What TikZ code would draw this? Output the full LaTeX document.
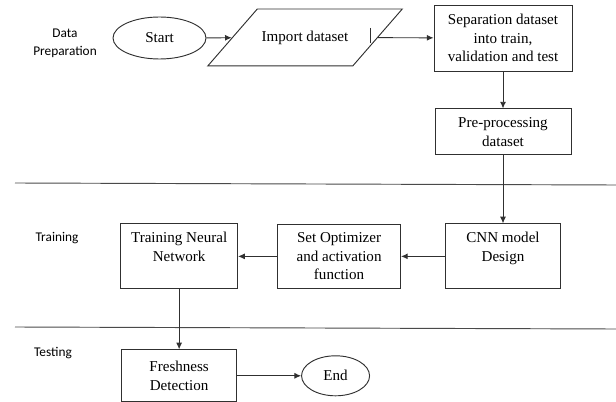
\documentclass[tikz,border=0pt]{standalone}
\usepackage{fontspec}
\setmainfont{Liberation Serif}
\newfontfamily\boxfont{Liberation Serif}
\newfontfamily\phasefont{Carlito}
\usetikzlibrary{arrows.meta, positioning, shapes.geometric}
\definecolor{linegray}{HTML}{303030}
\definecolor{rulegray}{HTML}{4A4A4A}

\begin{document}
\begin{tikzpicture}[
    x=0.75pt, y=-0.75pt,
    >={Latex[length=5pt, width=4.5pt]},
    font=\boxfont\fontsize{11.3}{14}\selectfont,
    procbox/.style={
        draw=linegray, line width=0.7pt, rectangle, align=center,
        inner sep=2pt,
    },
    termnode/.style={
        draw=linegray, line width=0.7pt, ellipse, inner sep=1pt,
    },
    iobox/.style={
        draw=linegray, line width=0.7pt, trapezium,
        trapezium left angle=49, trapezium right angle=131,
        trapezium stretches body=true,
        text height=8pt, text depth=2.5pt, inner ysep=16.1pt,
    },
    phase/.style={font=\phasefont\fontsize{10}{13.5}\selectfont, align=center},
    arr/.style={->, line width=0.7pt, color=linegray},
    sepline/.style={line width=0.7pt, color=rulegray},
]
\useasboundingbox (0,0) rectangle (616,402);

% Data preparation
\node[termnode, minimum width=69.75pt, minimum height=31.5pt] (start) at (159.5,38) {Start};
\node[iobox, minimum width=143.25pt] (import) at (305,37.5) {Import dataset};
\node[procbox, minimum width=103.5pt, minimum height=49.5pt] (separate) at (503,38)
    {Separation dataset\\into train,\\validation and test};
\node[procbox, minimum width=102pt, minimum height=34.5pt, below=27.75pt of separate] (preproc)
    {Pre-processing\\dataset};

% Training
\node[procbox, minimum width=86.25pt, minimum height=48.75pt, below=51pt of preproc] (cnn)
    {CNN model\\Design\\\mbox{}};
\node[procbox, minimum width=92.25pt, minimum height=48pt, left=33pt of cnn] (optim)
    {Set Optimizer\\and activation\\function};
\node[procbox, minimum width=87.75pt, minimum height=48.75pt, left=29.25pt of optim] (train)
    {Training Neural\\Network\\\mbox{}};

% Testing
\node[procbox, minimum width=86.25pt, minimum height=39pt, below=45pt of train] (fresh)
    {Freshness\\Detection};
\node[termnode, minimum width=51pt, minimum height=30pt, right=48pt of fresh] (finish) {End};

% Phase labels
\node[phase] (prep label) at (65,43) {Data\\Preparation};
\node[phase] (train label) at (57,238) {Training};
\node[phase] (test label) at (53,353) {Testing};

% Phase separators
\draw[sepline] (15,183) -- (616,185);
\draw[sepline] (15,327) -- (616,329);

% Flow
\draw[arr] (start) -- (import);
\draw[arr] (import) -- (separate);
\draw[arr] (separate) -- (preproc);
\draw[arr] (preproc) -- (cnn);
\draw[arr] (cnn) -- (optim);
\draw[arr] (optim) -- (train);
\draw[arr] (train) -- (fresh);
\draw[arr] (fresh) -- (finish);

% text cursor left in the input box
\draw[linegray, line width=0.6pt] (import.center) ++(65,-9.5) -- ++(0,15);

\end{tikzpicture}
\end{document}
